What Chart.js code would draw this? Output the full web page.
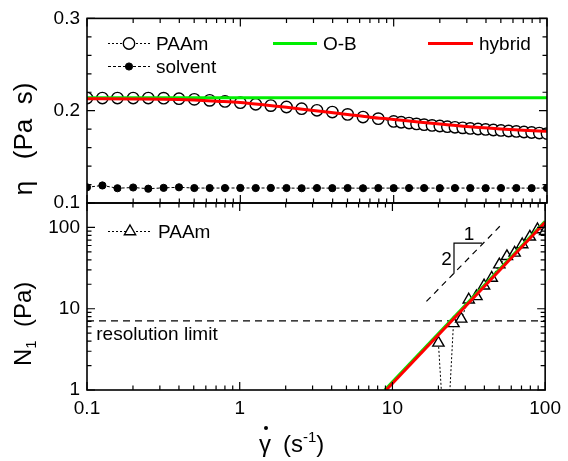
<!DOCTYPE html>
<html>
<head>
<meta charset="utf-8">
<script src="https://cdn.jsdelivr.net/npm/chart.js@4.4.1/dist/chart.umd.min.js"></script>
<style>
  body { margin: 0; background: #fff; }
  #wrap { position: relative; width: 568px; height: 461px; }
  canvas { position: absolute; left: 0; top: 0; }
</style>
</head>
<body>
<div id="wrap">
  <canvas id="topChart" width="568" height="461"></canvas>
  <canvas id="bottomChart" width="568" height="461"></canvas>
</div>
<script>
// ---- data ----
// viscosity panel
const rateEta = [0.1, 0.126, 0.158, 0.2, 0.251, 0.316, 0.398, 0.501, 0.631, 0.794,
  1, 1.26, 1.58, 2, 2.51, 3.16, 3.98, 5.01, 6.31, 7.94,
  10, 11.2, 12.6, 14.1, 15.8, 17.8, 20, 22.4, 25.1, 28.2, 31.6, 35.5, 39.8, 44.7, 50.1, 56.2, 63.1, 70.8, 79.4, 89.1, 100];
const etaPAAm = [0.2137, 0.2137, 0.2137, 0.2137, 0.2137, 0.2136, 0.2130, 0.2123, 0.2112, 0.2101,
  0.2087, 0.2069, 0.2055, 0.2040, 0.2022, 0.2004, 0.1985, 0.1960, 0.1931, 0.1914,
  0.1884, 0.1875, 0.1866, 0.1857, 0.1849, 0.1841, 0.1834, 0.1827, 0.1820, 0.1814, 0.1808, 0.1802, 0.1797, 0.1791, 0.1786, 0.1780, 0.1775, 0.1769, 0.1764, 0.1758, 0.1752];

const rateSolvent = [0.1, 0.126, 0.158, 0.2, 0.251, 0.316, 0.398, 0.501, 0.631, 0.794,
  1, 1.26, 1.58, 2, 2.51, 3.16, 3.98, 5.01, 6.31, 7.94,
  10, 12.6, 15.8, 20, 25.1, 31.6, 39.8, 50.1, 63.1, 79.4, 100];
const etaSolvent = [0.1170, 0.1190, 0.1160, 0.1168, 0.1155, 0.1164, 0.1170, 0.1162, 0.1162, 0.1162,
  0.1163, 0.1162, 0.1163, 0.1162, 0.1160, 0.1162, 0.1161, 0.1162, 0.1160, 0.1162,
  0.1161, 0.1162, 0.1162, 0.1161, 0.1162, 0.1162, 0.1161, 0.1162, 0.1162, 0.1161, 0.1162];

const rateOB = [0.1, 100];
const etaOB = [0.2141, 0.2141];

const rateHybrid = [0.1, 0.2, 0.4, 0.5, 0.7, 1, 1.5, 2, 3, 5, 7, 10, 15, 20, 30, 50, 70, 100];
const etaHybrid = [0.2130, 0.2128, 0.2122, 0.2116, 0.2103, 0.2088, 0.2058, 0.2037, 0.2002, 0.1960, 0.1930, 0.1905, 0.1875, 0.1855, 0.1828, 0.1803, 0.1789, 0.1776];

// first normal stress difference panel
const rateN1 = [20, 22.4, 25.1, 28.2, 31.6, 35.5, 39.8, 44.7, 50.1, 56.2, 63.1, 70.8, 79.4, 89.1, 100];
const n1PAAm = [3.8, 0.12, 6.6, 7.5, 12.9, 14.2, 19.2, 23.9, 34.9, 44.2, 48.7, 61.7, 76.8, 94.4, 90];

const rateFitOB = [8.9, 100];
const n1FitOB = [1, 119];
const rateFitHybrid = [9.1, 100];
const n1FitHybrid = [1, 116];

const rateLimit = [0.1, 100];
const n1Limit = [7.1, 7.1];

const rateGuide = [16.7, 53.1];
const n1Guide = [12.3, 114];
const rateSlopeTri = [25.3, 25.3, 38.7];
const n1SlopeTri = [27, 64, 64];

const etaTicks = [0.1, 0.2, 0.3];
const rateTicks = [0.1, 1, 10, 100];
const n1Ticks = [1, 10, 100];

// ---- helpers ----
const FONT = '"Liberation Sans", Arial, Helvetica, sans-serif';
const GREEN = '#00ee00';
const RED = '#ff0000';

function pts(xs, ys) {
  return xs.map((v, i) => ({ x: v, y: ys[i] }));
}

function logTickList(lo, hi) {
  const out = [];
  for (let e = Math.round(Math.log10(lo)); Math.pow(10, e) <= hi * 1.0001; e++) {
    const d = Math.pow(10, e);
    for (let m = 1; m <= 9; m++) {
      if (m * d <= hi * 1.0001) out.push([m * d, m === 1]);
    }
  }
  return out;
}

function drawFrame(chart, xList, yList) {
  const { ctx, chartArea: a, scales } = chart;
  ctx.save();
  ctx.strokeStyle = '#000';
  ctx.lineWidth = 1.2;
  ctx.beginPath();
  xList.forEach(([v, major]) => {
    const p = scales.x.getPixelForValue(v);
    const L = major ? 8 : 4.5;
    ctx.moveTo(p, a.bottom); ctx.lineTo(p, a.bottom - L);
    ctx.moveTo(p, a.top); ctx.lineTo(p, a.top + L);
  });
  yList.forEach(([v, major]) => {
    const p = scales.y.getPixelForValue(v);
    const L = major ? 8 : 4.5;
    ctx.moveTo(a.left, p); ctx.lineTo(a.left + L, p);
    ctx.moveTo(a.right, p); ctx.lineTo(a.right - L, p);
  });
  ctx.stroke();
  ctx.lineWidth = 1.6;
  ctx.strokeRect(a.left, a.top, a.right - a.left, a.bottom - a.top);
  ctx.restore();
}

function legendItem(ctx, x0, x1, y, ds, label) {
  ctx.save();
  ctx.strokeStyle = ds.borderColor;
  ctx.lineWidth = ds.borderWidth;
  ctx.setLineDash(ds.borderDash || []);
  ctx.beginPath(); ctx.moveTo(x0, y); ctx.lineTo(x1, y); ctx.stroke();
  ctx.setLineDash([]);
  if (ds.pointRadius) {
    ctx.fillStyle = ds.pointBackgroundColor;
    ctx.strokeStyle = ds.pointBorderColor;
    ctx.lineWidth = ds.pointBorderWidth;
    Chart.helpers.drawPoint(ctx, { pointStyle: ds.pointStyle || 'circle', radius: ds.pointRadius, rotation: 0, borderWidth: ds.pointBorderWidth }, (x0 + x1) / 2, y);
  }
  ctx.fillStyle = '#000';
  ctx.font = '19px ' + FONT;
  ctx.textAlign = 'left';
  ctx.textBaseline = 'middle';
  ctx.fillText(label, x1 + 6, y + 1);
  ctx.restore();
}

function tickStyle(fmt) {
  return { color: '#000', padding: 7, autoSkip: false, maxRotation: 0, font: { family: FONT, size: 19 }, callback: fmt };
}

Chart.defaults.animation = false;

// ---- top panel: viscosity ----
const dsOB = { data: pts(rateOB, etaOB), borderColor: GREEN, borderWidth: 3, pointRadius: 0, order: 1 };
const dsHybrid = { data: pts(rateHybrid, etaHybrid), borderColor: RED, borderWidth: 3, pointRadius: 0, cubicInterpolationMode: 'monotone', order: 0 };
const dsPAAm = { data: pts(rateEta, etaPAAm), borderColor: '#000', borderWidth: 1, borderDash: [2, 2],
  pointRadius: 5.7, pointBorderWidth: 1.4, pointBackgroundColor: '#fff', pointBorderColor: '#000', order: 3 };
const dsSolvent = { data: pts(rateSolvent, etaSolvent), borderColor: '#000', borderWidth: 1, borderDash: [3, 2],
  pointRadius: 3.6, pointBorderWidth: 1, pointBackgroundColor: '#000', pointBorderColor: '#000', order: 2 };

new Chart(document.getElementById('topChart'), {
  type: 'line',
  data: { datasets: [dsOB, dsHybrid, dsPAAm, dsSolvent] },
  options: {
    responsive: false,
    devicePixelRatio: 1,
    layout: { padding: { left: 0, top: 18, right: 21, bottom: 258 } },
    plugins: { legend: { display: false }, tooltip: { enabled: false } },
    scales: {
      x: { type: 'logarithmic', min: 0.1, max: 100, display: false },
      y: {
        type: 'linear', min: 0.1, max: 0.3,
        grid: { display: false, drawTicks: false }, border: { display: false },
        ticks: tickStyle(v => v.toFixed(1)),
        afterBuildTicks: s => { s.ticks = etaTicks.map(v => ({ value: v })); },
        afterFit: s => { s.width = 87; }
      }
    }
  },
  plugins: [{
    id: 'topDecor',
    afterDraw(chart) {
      const yl = [];
      for (let i = 0; i <= 10; i++) yl.push([0.1 + i * 0.02, i % 5 === 0]);
      drawFrame(chart, logTickList(0.1, 100), yl);
      const ctx = chart.ctx;
      legendItem(ctx, 108, 150, 43.5, dsPAAm, 'PAAm');
      legendItem(ctx, 108, 150, 66.5, dsSolvent, 'solvent');
      legendItem(ctx, 273, 317, 43.5, dsOB, 'O-B');
      legendItem(ctx, 428, 473, 43.5, dsHybrid, 'hybrid');
      // axis title
      ctx.save();
      ctx.translate(32, 139);
      ctx.rotate(-Math.PI / 2);
      ctx.fillStyle = '#000';
      ctx.font = '26px ' + FONT;
      ctx.textAlign = 'center';
      ctx.textBaseline = 'alphabetic';
      ctx.fillText('\u03b7   (Pa  s)', 0, 0);
      ctx.restore();
    }
  }]
});

// ---- bottom panel: N1 ----
const dsFitOB = { data: pts(rateFitOB, n1FitOB), borderColor: GREEN, borderWidth: 3, pointRadius: 0, order: 1 };
const dsFitHybrid = { data: pts(rateFitHybrid, n1FitHybrid), borderColor: RED, borderWidth: 3, pointRadius: 0, order: 0 };
const dsN1 = { data: pts(rateN1, n1PAAm), borderColor: '#000', borderWidth: 1, borderDash: [2, 2],
  pointStyle: 'triangle', pointRadius: 6.5, pointBorderWidth: 1.4, pointBackgroundColor: '#fff', pointBorderColor: '#000', order: 3 };
const dsLimit = { data: pts(rateLimit, n1Limit), borderColor: '#000', borderWidth: 1.2, borderDash: [7, 5], pointRadius: 0, order: 4 };
const dsGuide = { data: pts(rateGuide, n1Guide), borderColor: '#000', borderWidth: 1.2, borderDash: [6, 5], pointRadius: 0, order: 5 };
const dsSlope = { data: pts(rateSlopeTri, n1SlopeTri), borderColor: '#000', borderWidth: 1.2, pointRadius: 0, order: 6 };

new Chart(document.getElementById('bottomChart'), {
  type: 'line',
  data: { datasets: [dsFitOB, dsFitHybrid, dsN1, dsLimit, dsGuide, dsSlope] },
  options: {
    responsive: false,
    devicePixelRatio: 1,
    layout: { padding: { left: 0, top: 203, right: 21, bottom: 0 } },
    plugins: { legend: { display: false }, tooltip: { enabled: false } },
    scales: {
      x: {
        type: 'logarithmic', min: 0.1, max: 100,
        grid: { display: false, drawTicks: false }, border: { display: false },
        ticks: tickStyle(v => String(Number(v.toPrecision(3)))),
        afterBuildTicks: s => { s.ticks = rateTicks.map(v => ({ value: v })); },
        afterFit: s => { s.height = 71; }
      },
      y: {
        type: 'logarithmic', min: 1, max: 200,
        grid: { display: false, drawTicks: false }, border: { display: false },
        ticks: tickStyle(v => String(Number(v.toPrecision(3)))),
        afterBuildTicks: s => { s.ticks = n1Ticks.map(v => ({ value: v })); },
        afterFit: s => { s.width = 87; }
      }
    }
  },
  plugins: [{
    id: 'bottomDecor',
    afterDraw(chart) {
      drawFrame(chart, logTickList(0.1, 100), logTickList(1, 200));
      const ctx = chart.ctx;
      const { x, y } = chart.scales;
      legendItem(ctx, 108, 152, 231.5, dsN1, 'PAAm');
      ctx.save();
      ctx.fillStyle = '#000';
      ctx.font = '19px ' + FONT;
      ctx.textAlign = 'left';
      ctx.textBaseline = 'middle';
      ctx.fillText('resolution limit', x.getPixelForValue(0.115), y.getPixelForValue(4.8));
      ctx.textAlign = 'center';
      ctx.fillText('1', x.getPixelForValue(31.7), y.getPixelForValue(82));
      ctx.fillText('2', x.getPixelForValue(22.6), y.getPixelForValue(40.3));
      // y title: N1 (Pa)
      ctx.translate(31, 366);
      ctx.rotate(-Math.PI / 2);
      ctx.textAlign = 'left';
      ctx.textBaseline = 'alphabetic';
      ctx.font = '24px ' + FONT;
      ctx.fillText('N', 0, 0);
      let w = ctx.measureText('N').width;
      ctx.font = '15px ' + FONT;
      ctx.fillText('1', w, 5);
      w += ctx.measureText('1').width;
      ctx.font = '24px ' + FONT;
      ctx.fillText('  (Pa)', w, 0);
      ctx.restore();
      // x title: shear rate with dot
      ctx.save();
      ctx.fillStyle = '#000';
      ctx.font = '24px ' + FONT;
      ctx.textAlign = 'left';
      ctx.textBaseline = 'alphabetic';
      ctx.fillText('\u03b3', 259, 452);
      ctx.beginPath();
      ctx.arc(266, 428, 2, 0, Math.PI * 2);
      ctx.fill();
      let px = 283;
      ctx.fillText('(s', px, 452);
      px += ctx.measureText('(s').width;
      ctx.font = '15px ' + FONT;
      ctx.fillText('-1', px, 442);
      px += ctx.measureText('-1').width;
      ctx.font = '24px ' + FONT;
      ctx.fillText(')', px, 452);
      ctx.restore();
    }
  }]
});
</script>
</body>
</html>
